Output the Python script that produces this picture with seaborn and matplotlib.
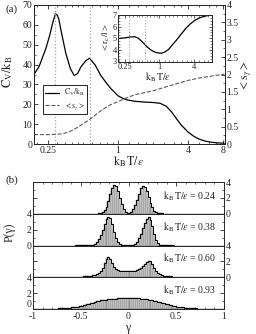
import numpy as np
import pandas as pd
import matplotlib
matplotlib.use('Agg')
import matplotlib.pyplot as plt
import seaborn as sns
from matplotlib.ticker import FixedLocator, FuncFormatter, NullFormatter
from matplotlib.lines import Line2D

sns.set_style('ticks')
plt.rcParams['font.family'] = ['Liberation Serif', 'DejaVu Serif']
plt.rcParams['mathtext.fontset'] = 'stix'
plt.rcParams['xtick.direction'] = 'in'
plt.rcParams['ytick.direction'] = 'in'

# ---- panel (a) data ----
T_cv = [0.19, 0.21, 0.24, 0.26, 0.275, 0.29, 0.30, 0.31, 0.33, 0.357, 0.39, 0.42, 0.45,
        0.48, 0.53, 0.57, 0.64, 0.71, 0.80, 0.87, 1.0, 1.1, 1.2, 1.4, 1.7, 2.0, 2.3,
        2.6, 2.9, 3.2, 3.5, 4.0, 4.5, 5.0, 5.5, 6.0, 7.0, 8.2]
cv = [35, 39, 48, 55, 61, 65.5, 65, 63, 55, 45.5, 38, 34.5, 35.5,
      38.8, 42, 43.2, 39.6, 34.6, 30.5, 27.9, 24.3, 23, 22.2, 21.5, 21.1, 20.9, 20.5,
      19, 16, 12.5, 9.5, 6, 3.8, 2.4, 1.6, 1.1, 0.6, 0.4]

T_s = [0.19, 0.25, 0.30, 0.34, 0.38, 0.42, 0.46, 0.50, 0.55, 0.60, 0.67, 0.76, 0.85,
       1.0, 1.17, 1.4, 1.7, 2.0, 2.5, 3.0, 4.0, 5.0, 6.5, 8.2]
s_gamma = [0.27, 0.27, 0.28, 0.30, 0.35, 0.42, 0.5, 0.58, 0.67, 0.76, 0.89, 1.02, 1.12,
           1.22, 1.32, 1.42, 1.48, 1.53, 1.63, 1.71, 1.83, 1.9, 1.96, 2.01]

T_rc = [0.19, 0.25, 0.3, 0.375, 0.43, 0.52, 0.6, 0.69, 0.8, 0.9, 1.0, 1.1, 1.25, 1.45,
        1.7, 2.0, 2.4, 2.9, 3.5, 4.2, 5.0, 6.0, 7.0, 8.2]
rc = [4.98, 5.03, 5.1, 5.13, 5.0, 4.63, 4.3, 4.04, 3.85, 3.76, 3.72, 3.72, 3.82, 4.04,
      4.45, 4.85, 5.35, 5.85, 6.25, 6.55, 6.75, 6.88, 6.95, 7.0]

T_marks = [0.29, 0.57]

# ---- panel (b) data: P(gamma), bins of 0.02 from -1 to 1 ----
temps_b = ['0.24', '0.38', '0.60', '0.93']
p_024 = [0, 0, 0, 0, 0, 0, 0, 0, 0, 0,
         0, 0, 0, 0, 0, 0, 0, 0, 0, 0,
         0, 0, 0, 0, 0, 0, 0, 0.01, 0.01, 0.01,
         0.01, 0.02, 0.02, 0.03, 0.05, 0.07, 0.16, 0.41, 0.87, 1.59,
         2.47, 3.27, 3.68, 3.54, 2.9, 2.02, 1.2, 0.61, 0.27, 0.14,
         0.14, 0.28, 0.58, 1.08, 1.76, 2.54, 3.2, 3.54, 3.42, 2.9,
         2.15, 1.4, 0.8, 0.4, 0.2, 0.1, 0.07, 0.05, 0.03, 0.02,
         0.01, 0.01, 0.01, 0, 0, 0, 0, 0, 0, 0,
         0, 0, 0, 0, 0, 0, 0, 0, 0, 0,
         0, 0, 0, 0, 0, 0, 0, 0, 0, 0]
p_038 = [0, 0, 0, 0, 0, 0, 0, 0, 0, 0,
         0, 0, 0, 0, 0, 0, 0, 0, 0, 0,
         0, 0, 0.01, 0.01, 0.01, 0.01, 0.02, 0.02, 0.03, 0.04,
         0.06, 0.1, 0.2, 0.41, 0.78, 1.32, 2.0, 2.72, 3.3, 3.59,
         3.41, 2.66, 1.71, 0.9, 0.39, 0.15, 0.08, 0.05, 0.04, 0.03,
         0.03, 0.05, 0.1, 0.24, 0.49, 0.9, 1.48, 2.18, 2.88, 3.4,
         3.6, 3.27, 2.42, 1.48, 0.74, 0.31, 0.12, 0.06, 0.04, 0.03,
         0.02, 0.01, 0.01, 0.01, 0, 0, 0, 0, 0, 0,
         0, 0, 0, 0, 0, 0, 0, 0, 0, 0,
         0, 0, 0, 0, 0, 0, 0, 0, 0, 0]
p_060 = [0, 0, 0, 0, 0, 0, 0, 0, 0, 0,
         0.01, 0.01, 0.01, 0.01, 0.01, 0.01, 0.02, 0.02, 0.03, 0.03,
         0.04, 0.05, 0.06, 0.07, 0.08, 0.09, 0.1, 0.12, 0.14, 0.16,
         0.19, 0.23, 0.3, 0.4, 0.55, 0.8, 1.2, 1.75, 2.3, 2.5,
         2.3, 1.8, 1.35, 1.05, 0.9, 0.83, 0.8, 0.8, 0.82, 0.85,
         0.85, 0.82, 0.8, 0.82, 0.88, 1.0, 1.2, 1.45, 1.7, 1.95,
         2.08, 2.0, 1.65, 1.15, 0.75, 0.5, 0.35, 0.27, 0.22, 0.18,
         0.15, 0.12, 0.1, 0.08, 0.07, 0.06, 0.05, 0.04, 0.03, 0.03,
         0.02, 0.02, 0.01, 0.01, 0.01, 0, 0, 0, 0, 0,
         0, 0, 0, 0, 0, 0, 0, 0, 0, 0]
p_093 = [0.01, 0.01, 0.01, 0.01, 0.02, 0.02, 0.02, 0.03, 0.03, 0.03,
         0.04, 0.05, 0.06, 0.07, 0.08, 0.1, 0.11, 0.13, 0.15, 0.17,
         0.2, 0.23, 0.27, 0.31, 0.36, 0.41, 0.47, 0.53, 0.6, 0.67,
         0.74, 0.81, 0.88, 0.95, 1.02, 1.08, 1.12, 1.15, 1.18, 1.2,
         1.22, 1.25, 1.28, 1.31, 1.34, 1.37, 1.4, 1.42, 1.43, 1.44,
         1.44, 1.43, 1.41, 1.39, 1.36, 1.33, 1.3, 1.27, 1.24, 1.21,
         1.18, 1.15, 1.11, 1.06, 1.0, 0.93, 0.86, 0.79, 0.72, 0.65,
         0.58, 0.52, 0.46, 0.4, 0.35, 0.3, 0.26, 0.22, 0.19, 0.16,
         0.14, 0.12, 0.1, 0.09, 0.08, 0.07, 0.06, 0.05, 0.04, 0.04,
         0.03, 0.03, 0.02, 0.02, 0.02, 0.01, 0.01, 0.01, 0.01, 0.01]
hists = [p_024, p_038, p_060, p_093]

edges = list(np.linspace(-1, 1, 101))
centers = [0.5 * (a + b) for a, b in zip(edges[:-1], edges[1:])]

W, H = 256, 334
fig = plt.figure(figsize=(W / 100, H / 100), dpi=100)

def box(x0, y0, x1, y1):
    # pixel box (top-left origin) -> figure fraction
    return [x0 / W, 1 - y1 / H, (x1 - x0) / W, (y1 - y0) / H]

fmt = FuncFormatter(lambda v, p: '%g' % v)
xmaj = [0.25, 1, 4, 8]
xmin = [0.2, 0.3, 0.35, 0.4, 0.45, 0.5, 0.6, 0.7, 0.8, 0.9,
        1.25, 1.5, 1.75, 2, 2.5, 3, 3.5, 5, 6, 7]

def log_T_axis(a, major):
    a.set_xscale('log')
    a.set_xlim(0.19, 8.3)
    a.xaxis.set_major_locator(FixedLocator(major))
    a.xaxis.set_minor_locator(FixedLocator(xmin))
    a.xaxis.set_major_formatter(fmt)
    a.xaxis.set_minor_formatter(NullFormatter())

# ---- (a) main ----
ax = fig.add_axes(box(34, 5, 225, 144))
ax.set_xscale('log')
sns.lineplot(x=T_cv, y=cv, ax=ax, color='k', lw=0.9, sort=False)
for t in T_marks:
    ax.axvline(t, color='0.65', ls=':', lw=0.9)
ax.set_ylim(0, 70)
ax.set_yticks(range(0, 71, 10))
ax.yaxis.set_minor_locator(FixedLocator(range(5, 70, 10)))

ax2 = ax.twinx()
sns.lineplot(x=T_s, y=s_gamma, ax=ax2, color='0.35', lw=0.8, ls='--', sort=False)
ax2.set_ylim(0, 4)
ax2.set_yticks(np.arange(0, 4.01, 0.5))
ax2.yaxis.set_minor_locator(FixedLocator(np.arange(0.25, 4, 0.5)))
ax2.yaxis.set_major_formatter(fmt)
ax2.set_ylabel('')
log_T_axis(ax, xmaj)

for a in (ax, ax2):
    a.tick_params(which='major', length=3, width=0.6, labelsize=7, pad=1.2)
    a.tick_params(which='minor', length=1.5, width=0.5)
    for s in a.spines.values():
        s.set_linewidth(0.7)
ax.tick_params(axis='x', which='both', top=True)

handles = [Line2D([], [], color='k', lw=0.9),
           Line2D([], [], color='0.35', lw=0.8, ls='--')]
leg = ax.legend(handles, [r'$\mathrm{C_V/k_B}$', r'$<\mathrm{s}_\gamma>$'],
                loc='upper left', bbox_to_anchor=(0.025, 0.455), fontsize=5.5,
                frameon=True, fancybox=False, edgecolor='k', framealpha=1,
                handlelength=1.8, borderpad=0.35, labelspacing=0.3, handletextpad=0.6)
leg.get_frame().set_linewidth(0.6)

fig.text(6 / W, 1 - 9 / H, '(a)', fontsize=8, va='center')
fig.text(129 / W, 1 - 161.5 / H, r'$\mathrm{k_B\,T/}\varepsilon$', fontsize=8.5, ha='center', va='center')
fig.text(8 / W, 1 - 72 / H, r'$\mathrm{C_V/k_B}$', fontsize=9, rotation=90, ha='center', va='center')
fig.text(247 / W, 1 - 75 / H, r'$<\mathrm{s}_\gamma>$', fontsize=8.5, rotation=90, ha='center', va='center')

# ---- (a) inset ----
axi = fig.add_axes(box(118, 15, 212, 61.5))
axi.set_xscale('log')
sns.lineplot(x=T_rc, y=rc, ax=axi, color='k', lw=0.9, sort=False)
for t in T_marks:
    axi.axvline(t, color='0.65', ls=':', lw=0.8)
log_T_axis(axi, [0.25, 1, 4])
axi.set_ylim(3, 7)
axi.set_yticks([3, 4, 5, 6, 7])
axi.yaxis.set_minor_locator(FixedLocator(np.arange(3.25, 7, 0.25)))
axi.tick_params(which='major', length=2.5, width=0.5, labelsize=6, pad=0.8, top=True, right=True)
axi.tick_params(which='minor', length=1.2, width=0.4, top=True, right=True)
for s in axi.spines.values():
    s.set_linewidth(0.7)
fig.text(158 / W, 1 - 77 / H, r'$\mathrm{k_B\,T/}\varepsilon$', fontsize=7, ha='center', va='center')
fig.text(106 / W, 1 - 38 / H, r'$<\mathrm{r_c/l}>$', fontsize=6.5, rotation=90, ha='center', va='center')

# ---- (b) histograms ----
tops = [182, 213.75, 245.5, 277.25]
for k, (p, tl) in enumerate(zip(hists, temps_b)):
    df = pd.DataFrame({'gamma': centers, 'P': p})
    axb = fig.add_axes(box(33, tops[k], 224, tops[k] + 31.75))
    sns.histplot(data=df, x='gamma', weights='P', bins=edges, ax=axb, stat='count',
                 color='0.86', edgecolor='0.4', linewidth=0.35, alpha=1)
    sns.histplot(data=df, x='gamma', weights='P', bins=edges, ax=axb, stat='count',
                 element='step', fill=False, color='k', linewidth=0.7)
    axb.set_xlim(-1, 1)
    axb.set_ylim(0, 4)
    axb.set_ylabel('')
    axb.set_xlabel('')
    axb.set_yticks([0, 2, 4])
    axb.yaxis.set_minor_locator(FixedLocator([1, 3]))
    axb.set_xticks([-1, -0.5, 0, 0.5, 1])
    axb.xaxis.set_minor_locator(FixedLocator(np.arange(-0.9, 0.95, 0.1)))
    axb.xaxis.set_major_formatter(fmt)
    lab_right = (k % 2 == 0)
    axb.tick_params(axis='y', which='both', left=True, right=True,
                    labelleft=not lab_right, labelright=lab_right)
    axb.tick_params(axis='x', which='both', bottom=(k == 3), top=(k == 0),
                    labelbottom=(k == 3), labeltop=False)
    axb.tick_params(which='major', length=3, width=0.6, labelsize=7, pad=1.2)
    axb.tick_params(which='minor', length=1.5, width=0.5)
    axb.tick_params(axis='x', pad=2.2)
    for s in axb.spines.values():
        s.set_linewidth(0.7)
    if k == 3:
        axb.get_yticklabels()[0].set_va('bottom')
    axb.text(0.92, 2.2 if k == 0 else 2.35, r'$\mathrm{k_B\,T/}\varepsilon$ = ' + tl,
             fontsize=7, ha='right', va='center')

fig.text(6 / W, 1 - 180 / H, '(b)', fontsize=8, va='center')
fig.text(10 / W, 1 - 232 / H, 'P(γ)', fontsize=8.5, rotation=90, ha='center', va='center')
fig.text(128 / W, 1 - 327.5 / H, 'γ', fontsize=8.5, ha='center', va='center')

fig.savefig('out.png', dpi=100)
